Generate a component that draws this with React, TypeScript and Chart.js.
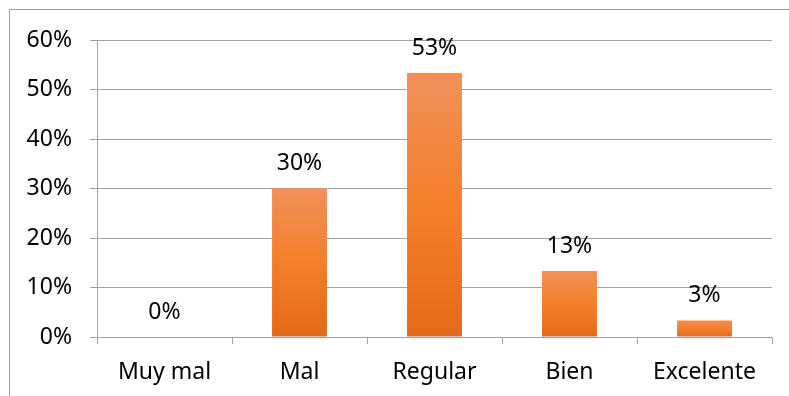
import React, { useEffect, useRef } from "react";
import { Chart, registerables } from "chart.js";

Chart.register(...registerables);

const categories = ["Muy mal", "Mal", "Regular", "Bien", "Excelente"];
const values = [0, 30, 53.33, 13.33, 3.33];
const valueLabels = ["0%", "30%", "53%", "13%", "3%"];
const yTicks = [0, 10, 20, 30, 40, 50, 60];

const FONT = "'Noto Sans', 'Open Sans', sans-serif";
const GRID = "#a3a3a3";
const FS = 23;

const labelPlugin = {
  id: "valueLabels",
  afterDatasetsDraw(chart: any) {
    const ctx = chart.ctx;
    const meta = chart.getDatasetMeta(0);
    ctx.save();
    ctx.font = `${FS}px ${FONT}`;
    ctx.fillStyle = "#000";
    ctx.textAlign = "center";
    ctx.textBaseline = "middle";
    meta.data.forEach((bar: any, i: number) => {
      ctx.fillText(valueLabels[i], bar.x, bar.y - 25);
    });
    ctx.restore();
  },
};

export default function App() {
  const ref = useRef<HTMLCanvasElement>(null);
  useEffect(() => {
    if (!ref.current) return;
    const chart = new Chart(ref.current, {
      type: "bar",
      data: {
        labels: categories,
        datasets: [
          {
            data: values,
            barPercentage: 0.407,
            categoryPercentage: 1,
            backgroundColor: (c: any) => {
              const ch = c.chart;
              const y = ch.scales?.y;
              if (!y || c.parsed == null) return "#F47F2A";
              const top = y.getPixelForValue(c.parsed.y);
              const bottom = y.getPixelForValue(0);
              if (!isFinite(top) || bottom - top < 1) return "#F47F2A";
              const g = ch.ctx.createLinearGradient(0, top, 0, bottom);
              g.addColorStop(0, "#F0905A");
              g.addColorStop(0.5, "#F47F2A");
              g.addColorStop(1, "#E4691A");
              return g;
            },
            borderWidth: 0,
          },
        ],
      },
      options: {
        animation: false,
        responsive: false,
        maintainAspectRatio: false,
        layout: { padding: { left: 0, right: 17, top: 40, bottom: 0 } },
        plugins: {
          legend: { display: false },
          tooltip: { enabled: false },
        },
        scales: {
          x: {
            grid: {
              offset: true,
              drawOnChartArea: false,
              drawTicks: true,
              tickLength: 7,
              color: GRID,
            },
            border: { display: true, color: GRID },
            ticks: {
              color: "#000",
              font: { family: FONT, size: FS },
              padding: 15,
              maxRotation: 0,
            },
            afterFit: (s: any) => {
              s.height = 59;
            },
          },
          y: {
            min: 0,
            max: 60,
            afterBuildTicks: (s: any) => {
              s.ticks = yTicks.map((v) => ({ value: v }));
            },
            grid: { color: GRID, tickLength: 7 },
            border: { display: true, color: GRID },
            ticks: {
              color: "#000",
              font: { family: FONT, size: FS },
              padding: 18,
              callback: (v: any) => `${v}%`,
            },
            afterFit: (s: any) => {
              s.width = 97;
            },
          },
        },
      },
      plugins: [labelPlugin],
    });
    return () => chart.destroy();
  }, []);

  return (
    <div
      style={{
        position: "fixed",
        left: 0,
        top: 0,
        width: 789,
        height: 396,
        overflow: "hidden",
        background: "#fff",
      }}
    >
      <div
        style={{
          position: "absolute",
          left: 9,
          top: 9,
          width: 900,
          height: 500,
          border: "1px solid #a0a0a0",
        }}
      />
      <canvas
        ref={ref}
        width={789}
        height={396}
        style={{ position: "absolute", left: 0, top: 0, width: 789, height: 396 }}
      />
    </div>
  );
}
